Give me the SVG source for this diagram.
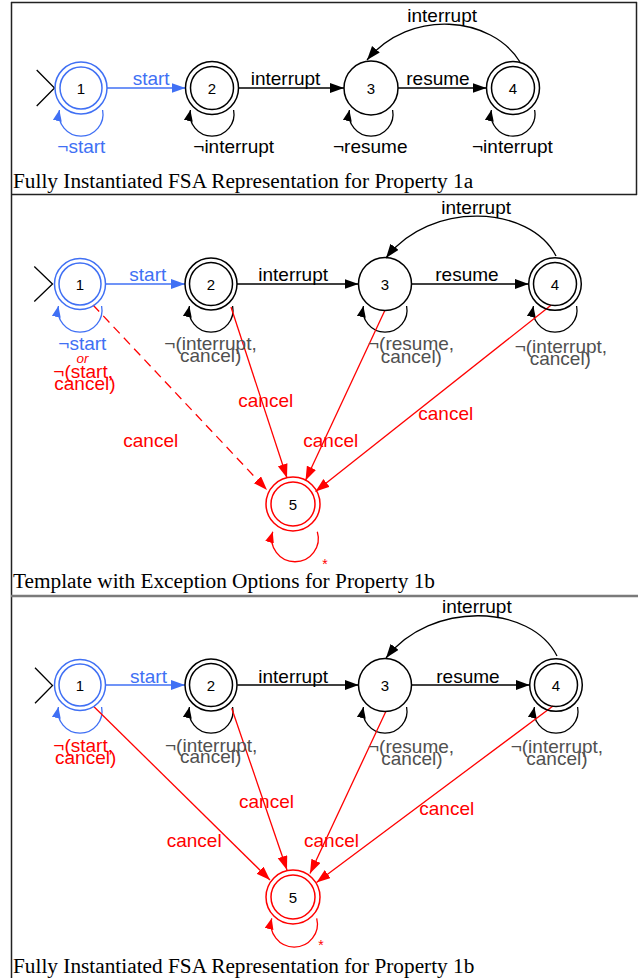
<svg xmlns="http://www.w3.org/2000/svg" width="638" height="978" viewBox="0 0 638 978">
<style>
.lbl{font-family:"Liberation Sans",Arial,sans-serif;font-size:19px}
.num{font-family:"Liberation Sans",Arial,sans-serif;font-size:15px;text-anchor:middle;fill:#000}
.cap{font-family:"Liberation Serif","Times New Roman",serif;font-size:21.3px;fill:#000}
.k{fill:#000}.b{fill:#4070f4}.r{fill:#f00}.g{fill:#505050}
.ek{stroke:#000;stroke-width:1.3;fill:none}
.eb{stroke:#4070f4;stroke-width:1.3;fill:none}
.er{stroke:#f00;stroke-width:1.3;fill:none}
.nk{fill:none;stroke:#000;stroke-width:1.5}
.nb{fill:none;stroke:#4070f4;stroke-width:1.5}
.nr{fill:none;stroke:#f00;stroke-width:1.5}
.frame{stroke:#222;stroke-width:1.5;fill:none}
</style>
<defs>
<marker id="ak" markerUnits="userSpaceOnUse" markerWidth="15" markerHeight="11" refX="14" refY="5" orient="auto"><path d="M0,0 L14,5 L0,10 z" fill="#000"/></marker>
<marker id="ab" markerUnits="userSpaceOnUse" markerWidth="15" markerHeight="11" refX="14" refY="5" orient="auto"><path d="M0,0 L14,5 L0,10 z" fill="#4070f4"/></marker>
<marker id="ar" markerUnits="userSpaceOnUse" markerWidth="15" markerHeight="11" refX="14" refY="5" orient="auto"><path d="M0,0 L14,5 L0,10 z" fill="#f00"/></marker>
<marker id="aks" markerUnits="userSpaceOnUse" markerWidth="12" markerHeight="10" refX="11" refY="4.5" orient="auto"><path d="M0,0 L11,4.5 L0,9 z" fill="#000"/></marker>
<marker id="abs" markerUnits="userSpaceOnUse" markerWidth="12" markerHeight="10" refX="11" refY="4.5" orient="auto"><path d="M0,0 L11,4.5 L0,9 z" fill="#4070f4"/></marker>
<marker id="ars" markerUnits="userSpaceOnUse" markerWidth="12" markerHeight="10" refX="11" refY="4.5" orient="auto"><path d="M0,0 L11,4.5 L0,9 z" fill="#f00"/></marker>
</defs>
<rect width="638" height="978" fill="#fff"/>

<g id="frames">
<line class="frame" x1="11.5" y1="2" x2="11.5" y2="978"/>
<line class="frame" x1="11" y1="2.5" x2="637" y2="2.5"/>
<line class="frame" x1="636.5" y1="2" x2="636.5" y2="195"/>
<line class="frame" x1="11" y1="194.5" x2="637" y2="194.5"/>
<line x1="11" y1="596" x2="638" y2="596" stroke="#7a7a7a" stroke-width="2.5"/>
</g>

<g id="captions">
<text class="cap" x="13" y="187.5">Fully Instantiated FSA Representation for Property 1a</text>
<text class="cap" x="13" y="588">Template with Exception Options for Property 1b</text>
<text class="cap" x="13" y="972.5">Fully Instantiated FSA Representation for Property 1b</text>
</g>

<g id="connectors">
<!-- panel a -->
<polyline class="ek" points="36.7,70 54.5,88 36.7,106"/>
<line class="eb" x1="107" y1="88" x2="185.5" y2="88" marker-end="url(#ab)"/>
<line class="ek" x1="238.5" y1="88" x2="344" y2="88" marker-end="url(#ak)"/>
<line class="ek" x1="398" y1="88" x2="486.5" y2="88" marker-end="url(#ak)"/>
<path class="ek" d="M520,62 C492,16 410,8 367,60" marker-end="url(#ak)"/>
<path class="eb" d="M102.6,110 A22,22 0 1 1 59.4,110" marker-end="url(#abs)"/>
<path class="ek" d="M233.6,110 A22,22 0 1 1 190.4,110" marker-end="url(#aks)"/>
<path class="ek" d="M392.6,110 A22,22 0 1 1 349.4,110" marker-end="url(#aks)"/>
<path class="ek" d="M534.6,110 A22,22 0 1 1 491.4,110" marker-end="url(#aks)"/>
<!-- panel b -->
<polyline class="ek" points="34.3,266.5 52.5,284 34.3,301.5"/>
<line class="eb" x1="105.5" y1="284" x2="185" y2="284" marker-end="url(#ab)"/>
<line class="ek" x1="237" y1="284" x2="358.5" y2="284" marker-end="url(#ak)"/>
<line class="ek" x1="411.5" y1="284" x2="528.7" y2="284" marker-end="url(#ak)"/>
<path class="ek" d="M556,256 C530,205 430,200 386,258" marker-end="url(#ak)"/>
<path class="eb" d="M101.6,306 A22,22 0 1 1 58.4,306" marker-end="url(#abs)"/>
<path class="ek" d="M232.6,306 A22,22 0 1 1 189.4,306" marker-end="url(#aks)"/>
<path class="ek" d="M406.6,306 A22,22 0 1 1 363.4,306" marker-end="url(#aks)"/>
<path class="ek" d="M576.6,306 A22,22 0 1 1 533.4,306" marker-end="url(#aks)"/>
<line class="er" x1="93" y1="305" x2="267" y2="490" stroke-dasharray="9 6" marker-end="url(#ar)"/>
<line class="er" x1="231" y1="307" x2="287" y2="478" marker-end="url(#ar)"/>
<line class="er" x1="384.7" y1="310.7" x2="305.5" y2="480.5" marker-end="url(#ar)"/>
<line class="er" x1="551.3" y1="305" x2="315.5" y2="491.5" marker-end="url(#ar)"/>
<path class="er" d="M317.3,531.7 A23.3,23.3 0 1 1 272.7,531.7" marker-end="url(#ars)"/>
<!-- panel c -->
<polyline class="ek" points="35,667.7 52.5,685.5 35,703.3"/>
<line class="eb" x1="105.5" y1="685" x2="185" y2="685" marker-end="url(#ab)"/>
<line class="ek" x1="237.3" y1="685" x2="358.7" y2="685" marker-end="url(#ak)"/>
<line class="ek" x1="412" y1="685" x2="529.7" y2="685" marker-end="url(#ak)"/>
<path class="ek" d="M557,656 C531,604 431,600 386,658" marker-end="url(#ak)"/>
<path class="eb" d="M101.6,707 A22,22 0 1 1 58.4,707" marker-end="url(#abs)"/>
<path class="ek" d="M232.6,707 A22,22 0 1 1 189.4,707" marker-end="url(#aks)"/>
<path class="ek" d="M406.6,707 A22,22 0 1 1 363.4,707" marker-end="url(#aks)"/>
<path class="ek" d="M577.6,707 A22,22 0 1 1 534.4,707" marker-end="url(#aks)"/>
<line class="er" x1="94" y1="706.7" x2="270" y2="880" marker-end="url(#ar)"/>
<line class="er" x1="231.7" y1="708.3" x2="287" y2="870" marker-end="url(#ar)"/>
<line class="er" x1="385.7" y1="711.7" x2="310" y2="873.5" marker-end="url(#ar)"/>
<line class="er" x1="553" y1="706" x2="316.5" y2="882.5" marker-end="url(#ar)"/>
<path class="er" d="M316.7,918.3 A23.2,23.2 0 1 1 271.7,918.3" marker-end="url(#ars)"/>
</g>

<g id="edge-labels">
<!-- panel a -->
<text class="lbl b" x="132.7" y="85">start</text>
<text class="lbl k" x="250.7" y="85">interrupt</text>
<text class="lbl k" x="406.3" y="85">resume</text>
<text class="lbl k" x="407.3" y="22">interrupt</text>
<text class="lbl b" x="57.3" y="153">¬start</text>
<text class="lbl k" x="193.3" y="153">¬interrupt</text>
<text class="lbl k" x="333" y="153">¬resume</text>
<text class="lbl k" x="472" y="153">¬interrupt</text>
<!-- panel b -->
<text class="lbl b" x="129.3" y="281">start</text>
<text class="lbl k" x="258.3" y="281">interrupt</text>
<text class="lbl k" x="435.3" y="281">resume</text>
<text class="lbl k" x="441.3" y="213.5">interrupt</text>
<text class="lbl b" x="58.3" y="350">¬start</text>
<text class="r" x="82.5" y="363" font-family="Liberation Sans, Arial, sans-serif" font-size="13.5" font-style="italic" text-anchor="middle">or</text>
<text class="lbl r" x="53.3" y="377.7">¬(start,</text>
<text class="lbl r" x="54.3" y="390">cancel)</text>
<text class="lbl g" x="164.3" y="350">¬(interrupt,</text>
<text class="lbl g" x="180" y="361.7">cancel)</text>
<text class="lbl g" x="368" y="350">¬(resume,</text>
<text class="lbl g" x="380.7" y="363.3">cancel)</text>
<text class="lbl g" x="514.7" y="353.3">¬(interrupt,</text>
<text class="lbl g" x="529.7" y="365">cancel)</text>
<text class="lbl r" x="123.3" y="446.7">cancel</text>
<text class="lbl r" x="238.3" y="407.3">cancel</text>
<text class="lbl r" x="303.3" y="446.7">cancel</text>
<text class="lbl r" x="418.3" y="420">cancel</text>
<text class="r" x="325" y="569" font-family="Liberation Sans, Arial, sans-serif" font-size="14" text-anchor="middle">*</text>
<!-- panel c -->
<text class="lbl b" x="130" y="682.5">start</text>
<text class="lbl k" x="258.3" y="682.5">interrupt</text>
<text class="lbl k" x="436.3" y="682.5">resume</text>
<text class="lbl k" x="442" y="613">interrupt</text>
<text class="lbl r" x="53.3" y="751.7">¬(start,</text>
<text class="lbl r" x="55" y="764">cancel)</text>
<text class="lbl g" x="165" y="751.7">¬(interrupt,</text>
<text class="lbl g" x="180" y="763.3">cancel)</text>
<text class="lbl g" x="368" y="753.3">¬(resume,</text>
<text class="lbl g" x="381.3" y="765">cancel)</text>
<text class="lbl g" x="510.7" y="753.3">¬(interrupt,</text>
<text class="lbl g" x="526.3" y="765">cancel)</text>
<text class="lbl r" x="239" y="808.3">cancel</text>
<text class="lbl r" x="166.7" y="847.3">cancel</text>
<text class="lbl r" x="304" y="847.3">cancel</text>
<text class="lbl r" x="419.3" y="815">cancel</text>
<text class="r" x="321" y="950" font-family="Liberation Sans, Arial, sans-serif" font-size="14" text-anchor="middle">*</text>
</g>

<!-- panel a nodes -->
<g id="a1"><circle class="nb" cx="81" cy="88" r="26"/><circle class="nb" cx="81" cy="88" r="21"/><text class="num" x="81" y="93.5">1</text></g>
<g id="a2"><circle class="nk" cx="212" cy="88" r="26.5"/><circle class="nk" cx="212" cy="88" r="21.5"/><text class="num" x="212" y="93.5">2</text></g>
<g id="a3"><circle class="nk" cx="371" cy="88" r="27"/><text class="num" x="371" y="93.5">3</text></g>
<g id="a4"><circle class="nk" cx="513" cy="88" r="26.5"/><circle class="nk" cx="513" cy="88" r="21.5"/><text class="num" x="513" y="93.5">4</text></g>
<!-- panel b nodes -->
<g id="b1"><circle class="nb" cx="80" cy="284" r="25.5"/><circle class="nb" cx="80" cy="284" r="21"/><text class="num" x="80" y="289.5">1</text></g>
<g id="b2"><circle class="nk" cx="211" cy="284" r="26"/><circle class="nk" cx="211" cy="284" r="21.5"/><text class="num" x="211" y="289.5">2</text></g>
<g id="b3"><circle class="nk" cx="385" cy="284" r="26.5"/><text class="num" x="385" y="289.5">3</text></g>
<g id="b4"><circle class="nk" cx="555" cy="284" r="26.3"/><circle class="nk" cx="555" cy="284" r="21.5"/><text class="num" x="555" y="289.5">4</text></g>
<g id="b5"><circle class="nr" cx="293" cy="504" r="27"/><circle class="nr" cx="293" cy="504" r="22"/><text class="num" x="293" y="509.5">5</text></g>
<!-- panel c nodes -->
<g id="c1"><circle class="nb" cx="80" cy="685" r="25.5"/><circle class="nb" cx="80" cy="685" r="21"/><text class="num" x="80" y="690.5">1</text></g>
<g id="c2"><circle class="nk" cx="211" cy="685" r="26"/><circle class="nk" cx="211" cy="685" r="21.5"/><text class="num" x="211" y="690.5">2</text></g>
<g id="c3"><circle class="nk" cx="385" cy="685" r="26.5"/><text class="num" x="385" y="690.5">3</text></g>
<g id="c4"><circle class="nk" cx="556" cy="685" r="26.3"/><circle class="nk" cx="556" cy="685" r="21.5"/><text class="num" x="556" y="690.5">4</text></g>
<g id="c5"><circle class="nr" cx="293" cy="897" r="27"/><circle class="nr" cx="293" cy="897" r="22"/><text class="num" x="293" y="902.5">5</text></g>
</svg>
